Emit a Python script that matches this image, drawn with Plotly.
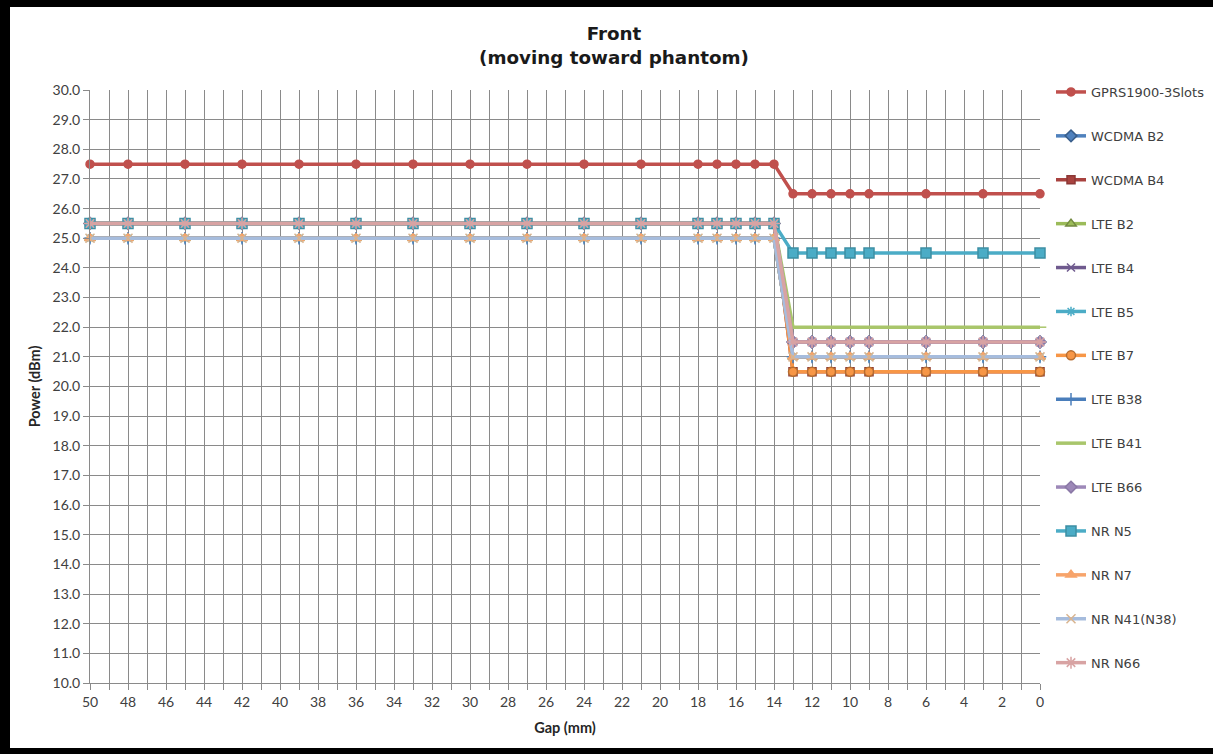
import plotly.graph_objects as go

gap = [50, 48, 45, 42, 39, 36, 33, 30, 27, 24, 21, 18, 17, 16, 15, 14, 13, 12, 11, 10, 9, 6, 3, 0]

gprs1900 = [27.5, 27.5, 27.5, 27.5, 27.5, 27.5, 27.5, 27.5, 27.5, 27.5, 27.5, 27.5, 27.5, 27.5, 27.5, 27.5,
            26.5, 26.5, 26.5, 26.5, 26.5, 26.5, 26.5, 26.5]
wcdma_b2 = [25.5, 25.5, 25.5, 25.5, 25.5, 25.5, 25.5, 25.5, 25.5, 25.5, 25.5, 25.5, 25.5, 25.5, 25.5, 25.5,
            21.5, 21.5, 21.5, 21.5, 21.5, 21.5, 21.5, 21.5]
wcdma_b4 = [25.5, 25.5, 25.5, 25.5, 25.5, 25.5, 25.5, 25.5, 25.5, 25.5, 25.5, 25.5, 25.5, 25.5, 25.5, 25.5,
            20.5, 20.5, 20.5, 20.5, 20.5, 20.5, 20.5, 20.5]
lte_b2 = [25.0, 25.0, 25.0, 25.0, 25.0, 25.0, 25.0, 25.0, 25.0, 25.0, 25.0, 25.0, 25.0, 25.0, 25.0, 25.0,
          21.0, 21.0, 21.0, 21.0, 21.0, 21.0, 21.0, 21.0]
lte_b4 = [25.5, 25.5, 25.5, 25.5, 25.5, 25.5, 25.5, 25.5, 25.5, 25.5, 25.5, 25.5, 25.5, 25.5, 25.5, 25.5,
          21.5, 21.5, 21.5, 21.5, 21.5, 21.5, 21.5, 21.5]
lte_b5 = [25.0, 25.0, 25.0, 25.0, 25.0, 25.0, 25.0, 25.0, 25.0, 25.0, 25.0, 25.0, 25.0, 25.0, 25.0, 25.0,
          21.0, 21.0, 21.0, 21.0, 21.0, 21.0, 21.0, 21.0]
lte_b7 = [25.5, 25.5, 25.5, 25.5, 25.5, 25.5, 25.5, 25.5, 25.5, 25.5, 25.5, 25.5, 25.5, 25.5, 25.5, 25.5,
          20.5, 20.5, 20.5, 20.5, 20.5, 20.5, 20.5, 20.5]
lte_b38 = [25.0, 25.0, 25.0, 25.0, 25.0, 25.0, 25.0, 25.0, 25.0, 25.0, 25.0, 25.0, 25.0, 25.0, 25.0, 25.0,
           21.0, 21.0, 21.0, 21.0, 21.0, 21.0, 21.0, 21.0]
lte_b41 = [25.5, 25.5, 25.5, 25.5, 25.5, 25.5, 25.5, 25.5, 25.5, 25.5, 25.5, 25.5, 25.5, 25.5, 25.5, 25.5,
           22.0, 22.0, 22.0, 22.0, 22.0, 22.0, 22.0, 22.0]
lte_b66 = [25.5, 25.5, 25.5, 25.5, 25.5, 25.5, 25.5, 25.5, 25.5, 25.5, 25.5, 25.5, 25.5, 25.5, 25.5, 25.5,
           21.5, 21.5, 21.5, 21.5, 21.5, 21.5, 21.5, 21.5]
nr_n5 = [25.5, 25.5, 25.5, 25.5, 25.5, 25.5, 25.5, 25.5, 25.5, 25.5, 25.5, 25.5, 25.5, 25.5, 25.5, 25.5,
         24.5, 24.5, 24.5, 24.5, 24.5, 24.5, 24.5, 24.5]
nr_n7 = [25.0, 25.0, 25.0, 25.0, 25.0, 25.0, 25.0, 25.0, 25.0, 25.0, 25.0, 25.0, 25.0, 25.0, 25.0, 25.0,
         21.0, 21.0, 21.0, 21.0, 21.0, 21.0, 21.0, 21.0]
nr_n41 = [25.0, 25.0, 25.0, 25.0, 25.0, 25.0, 25.0, 25.0, 25.0, 25.0, 25.0, 25.0, 25.0, 25.0, 25.0, 25.0,
          21.0, 21.0, 21.0, 21.0, 21.0, 21.0, 21.0, 21.0]
nr_n66 = [25.5, 25.5, 25.5, 25.5, 25.5, 25.5, 25.5, 25.5, 25.5, 25.5, 25.5, 25.5, 25.5, 25.5, 25.5, 25.5,
          21.5, 21.5, 21.5, 21.5, 21.5, 21.5, 21.5, 21.5]

series_names = ["GPRS1900-3Slots", "WCDMA B2", "WCDMA B4", "LTE B2", "LTE B4", "LTE B5", "LTE B7",
                "LTE B38", "LTE B41", "LTE B66", "NR N5", "NR N7", "NR N41(N38)", "NR N66"]
series_values = [gprs1900, wcdma_b2, wcdma_b4, lte_b2, lte_b4, lte_b5, lte_b7,
                 lte_b38, lte_b41, lte_b66, nr_n5, nr_n7, nr_n41, nr_n66]

x_tick_vals = [50, 48, 46, 44, 42, 40, 38, 36, 34, 32, 30, 28, 26, 24, 22, 20, 18, 16, 14, 12, 10, 8, 6, 4, 2, 0]
y_tick_vals = [10, 11, 12, 13, 14, 15, 16, 17, 18, 19, 20, 21, 22, 23, 24, 25, 26, 27, 28, 29, 30]

styles = [
    dict(color="#C0504D", symbol="circle", size=8, mline="#C0504D"),
    dict(color="#4F81BD", symbol="diamond", size=9, mline="#385D8A"),
    dict(color="#A8423F", symbol="square", size=8, mline="#8C3836"),
    dict(color="#9BBB59", symbol="triangle-up", size=9, mline="#71893F"),
    dict(color="#6F5A8E", symbol="x-thin", size=8, mline="#6F5A8E"),
    dict(color="#4BACC6", symbol="asterisk", size=8, mline="#4BACC6"),
    dict(color="#F79646", symbol="circle", size=9, mline="#B66D31"),
    dict(color="#4A7EBB", symbol="cross-thin", size=9, mline="#4A7EBB"),
    dict(color="#A9C66B", symbol="line-ew", size=9, mline="#A9C66B"),
    dict(color="#9D88B8", symbol="diamond", size=9, mline="#8A78A6"),
    dict(color="#4BACC6", symbol="square", size=10, mline="#3D8EA4"),
    dict(color="#F7A46B", symbol="triangle-up", size=9, mline="#F7A46B"),
    dict(color="#A6BCDD", symbol="x-thin", size=9, mline="#D9B48F"),
    dict(color="#D8A3A3", symbol="asterisk", size=10, mline="#D8A3A3"),
]

fig = go.Figure()
for i, (name, vals, st) in enumerate(zip(series_names, series_values, styles)):
    fig.add_trace(go.Scatter(
        x=gap, y=vals, name=name, mode="lines+markers",
        legendgroup=f"g{i}",
        line=dict(color=st["color"], width=3.5),
        marker=dict(color=st["color"], symbol=st["symbol"], size=st["size"],
                    line=dict(color=st["mline"], width=1.5)),
        cliponaxis=False,
    ))

W, H = 1213, 754
ml, mr, mt, mb = 90, 173, 90, 71
pw, ph = W - ml - mr, H - mt - mb

def px_x(p):
    return (p - ml) / pw

def px_y(p):
    return 1 - (p - mt) / ph

shapes = [
    dict(type="rect", xref="paper", yref="paper", x0=px_x(0), x1=px_x(10), y0=px_y(754), y1=px_y(0),
         fillcolor="black", line=dict(width=0), layer="above"),
    dict(type="rect", xref="paper", yref="paper", x0=px_x(0), x1=px_x(1213), y0=px_y(7), y1=px_y(0),
         fillcolor="black", line=dict(width=0), layer="above"),
    dict(type="rect", xref="paper", yref="paper", x0=px_x(0), x1=px_x(1213), y0=px_y(754), y1=px_y(748),
         fillcolor="black", line=dict(width=0), layer="above"),
]

fig.update_layout(
    width=W, height=H,
    margin=dict(l=ml, r=mr, t=mt, b=mb, autoexpand=False),
    paper_bgcolor="white", plot_bgcolor="white",
    font=dict(family="Lato, Open Sans, sans-serif", color="#404040", size=14),
    title=dict(text="<b>Front<br>(moving toward phantom)</b>", xref="paper", x=px_x(614),
               xanchor="center", y=1 - 40 / H, yanchor="top",
               font=dict(family="DejaVu Sans, sans-serif", size=18.3, color="#1a1a1a")),
    xaxis=dict(range=[50, 0], tickmode="array", tickvals=x_tick_vals,
               ticktext=[str(v) for v in x_tick_vals],
               showgrid=True, gridcolor="#8a8a8a", gridwidth=1,
               minor=dict(dtick=1, showgrid=True, gridcolor="#8a8a8a", ticks="outside",
                          ticklen=6, tickcolor="#8a8a8a"),
               ticks="outside", ticklen=6, tickcolor="#8a8a8a",
               showline=True, linecolor="#8a8a8a", linewidth=1,
               zeroline=False,
               tickfont=dict(size=14, color="#404040"),
               title=dict(text="<b>Gap (mm)</b>", font=dict(size=14.5, color="#262626"), standoff=14)),
    yaxis=dict(range=[10, 30], tickmode="array", tickvals=y_tick_vals,
               ticktext=[f"{v:.1f}" for v in y_tick_vals],
               showgrid=True, gridcolor="#8a8a8a", gridwidth=1,
               ticks="outside", ticklen=6, tickcolor="#8a8a8a",
               showline=True, linecolor="#8a8a8a", linewidth=1,
               zeroline=False,
               tickfont=dict(size=14, color="#404040"),
               title=dict(text="<b>Power (dBm)</b>", font=dict(size=14.5, color="#262626"), standoff=8)),
    legend=dict(x=px_x(1051), xanchor="left", y=px_y(77), yanchor="top",
                font=dict(family="DejaVu Sans, sans-serif", size=13, color="#404040"),
                tracegroupgap=24.0, bgcolor="rgba(0,0,0,0)", maxheight=720),
    shapes=shapes,
)

fig.write_html("out.html", config={"displayModeBar": False},
               post_script="document.body.style.margin='0';document.body.style.overflow='hidden';")
